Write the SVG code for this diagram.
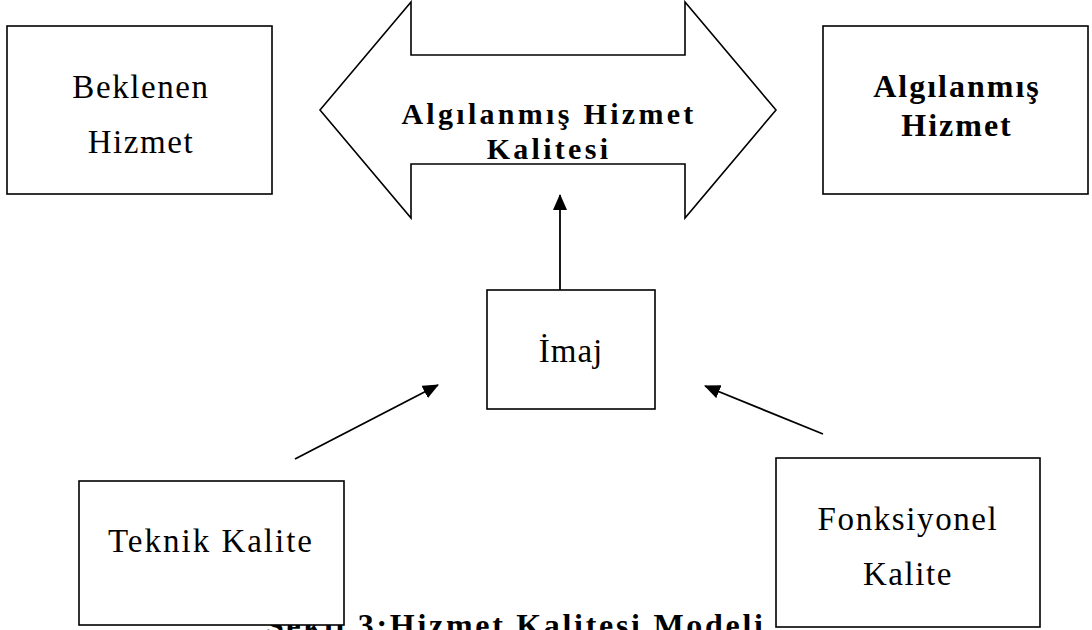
<svg xmlns="http://www.w3.org/2000/svg" width="1092" height="630" viewBox="0 0 1092 630">
<style>
.box{fill:#fff;stroke:#000;stroke-width:1.6}
.t{font-family:"Liberation Serif","Times New Roman",serif;font-size:33px;letter-spacing:1.6px;fill:#000;text-anchor:middle}
.b{font-family:"Liberation Serif","Times New Roman",serif;font-weight:bold;fill:#000;text-anchor:middle}
.c{stroke:#000;stroke-width:1.8;fill:none}
</style>
<defs>
<marker id="ah" viewBox="0 0 16 14" refX="15" refY="7" markerWidth="16" markerHeight="14" markerUnits="userSpaceOnUse" orient="auto">
<path d="M0,0 L16,7 L0,14 Z" fill="#000"/>
</marker>
</defs>
<rect width="1092" height="630" fill="#fff"/>
<text id="caption" class="b" x="266" y="636" style="font-size:32px;letter-spacing:2.7px;text-anchor:start">Şekil 3:Hizmet Kalitesi Modeli</text>
<g id="beklenen">
<rect class="box" x="7" y="26" width="265" height="168"/>
<text class="t" x="141" y="98">Beklenen</text>
<text class="t" x="141" y="153">Hizmet</text>
</g>
<g id="algilanan-kalite">
<polygon class="box" points="320,110 411,2 411,55 685,55 685,2 776,110 685,218 685,164 411,164 411,218"/>
<text class="b" x="549" y="124" style="font-size:30px;letter-spacing:3.3px">Algılanmış Hizmet</text>
<text class="b" x="549" y="159" style="font-size:30px;letter-spacing:3.3px">Kalitesi</text>
</g>
<g id="algilanan-hizmet">
<rect class="box" x="823" y="26" width="265" height="168"/>
<text class="b" x="957" y="97" style="font-size:32px;letter-spacing:2px">Algılanmış</text>
<text class="b" x="957" y="136" style="font-size:32px;letter-spacing:2px">Hizmet</text>
</g>
<g id="imaj">
<rect class="box" x="487" y="290" width="168" height="119"/>
<text class="t" x="571" y="362" style="letter-spacing:1px">İmaj</text>
</g>
<g id="teknik">
<rect class="box" x="79" y="481" width="265" height="144"/>
<text class="t" x="211" y="552" style="letter-spacing:2px">Teknik Kalite</text>
</g>
<g id="fonksiyonel">
<rect class="box" x="776" y="458" width="264" height="169"/>
<text class="t" x="908" y="530">Fonksiyonel</text>
<text class="t" x="908" y="585">Kalite</text>
</g>
<g id="connectors">
<line class="c" x1="560" y1="290" x2="560" y2="195" marker-end="url(#ah)"/>
<line class="c" x1="295" y1="459" x2="438" y2="385" marker-end="url(#ah)"/>
<line class="c" x1="823" y1="434" x2="705" y2="386" marker-end="url(#ah)"/>
</g>
</svg>
